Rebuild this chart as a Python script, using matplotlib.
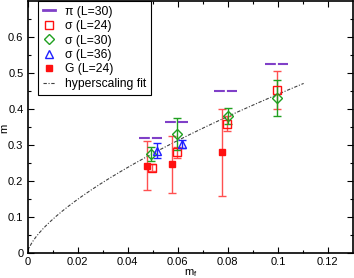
import numpy as np
import matplotlib
matplotlib.use('Agg')
import matplotlib.pyplot as plt
from matplotlib.lines import Line2D

plt.rcParams['font.family'] = ['Liberation Sans', 'DejaVu Sans']

# pi (L=30)
pi_x = [0.049, 0.0594, 0.079, 0.0993]
pi_y = [0.320, 0.364, 0.451, 0.524]

# sigma (L=24)
s24_x = [0.0498, 0.0598, 0.0797, 0.0998]
s24_y = [0.237, 0.280, 0.359, 0.452]
s24_e = [0.010, 0.015, 0.020, 0.052]

# sigma (L=30)
s30_x = [0.0492, 0.0596, 0.0800, 0.0998]
s30_y = [0.274, 0.330, 0.381, 0.431]
s30_e = [0.020, 0.045, 0.022, 0.050]

# sigma (L=36)
s36_x = [0.0517, 0.0616]
s36_y = [0.284, 0.303]
s36_e = [0.020, 0.012]

# G (L=24)
g_x = [0.0477, 0.0578, 0.0778]
g_y = [0.242, 0.246, 0.279]
g_e = [0.068, 0.080, 0.120]

# hyperscaling fit m = A * mf^p
fit_A = 2.08
fit_p = 0.674
fit_xmax = 0.1103

purple = '#8040c8'
red = '#ff1010'
red_bar = '#ff5050'
green = '#20a020'
blue = '#2020ff'

fig = plt.figure(figsize=(3.54, 2.78), dpi=100)
ax = fig.add_axes([0.078, 0.09, 0.919, 0.907])

xf = np.linspace(0, fit_xmax, 300)
ax.plot(xf, fit_A * xf ** fit_p, color='#404040', lw=0.8, ls=(0, (3, 1.5, 1, 1.5)))

ax.errorbar(g_x, g_y, yerr=g_e, fmt='s', color=red, ecolor=red_bar, ms=5,
            elinewidth=1, capsize=3, capthick=1)
ax.errorbar(s24_x, s24_y, yerr=s24_e, fmt='s', mfc='none', mec=red, ecolor=red_bar,
            ms=6, mew=1, elinewidth=1, capsize=3, capthick=1)
ax.errorbar(s30_x, s30_y, yerr=s30_e, fmt='D', mfc='none', mec=green, ecolor=green,
            ms=5, mew=1, elinewidth=1, capsize=3, capthick=1)
ax.errorbar(s36_x, s36_y, yerr=s36_e, fmt='^', mfc='none', mec=blue, ecolor=blue,
            ms=6, mew=1, elinewidth=1, capsize=3, capthick=1)

hw = 0.0046
ax.hlines(pi_y, np.array(pi_x) - hw, np.array(pi_x) + hw, colors=purple,
          lw=1.5, linestyles=(0, (5.2, 1.0)))

ax.set_xlim(0, 0.13)
ax.set_ylim(0, 0.7)
ax.set_xticks(np.arange(0, 0.121, 0.02))
ax.set_xticklabels(['0', '0.02', '0.04', '0.06', '0.08', '0.1', '0.12'])
ax.set_xticks(np.arange(0.01, 0.13, 0.02), minor=True)
ax.set_yticks(np.arange(0, 0.61, 0.1))
ax.set_yticklabels(['0', '0.1', '0.2', '0.3', '0.4', '0.5', '0.6'])
ax.set_yticks(np.arange(0.05, 0.7, 0.1), minor=True)
ax.tick_params(which='both', direction='in', top=True, right=True, labelsize=8, width=0.8)
ax.tick_params(which='major', length=4, pad=3)
ax.tick_params(which='minor', length=2)
for s in ax.spines.values():
    s.set_linewidth(1.2)

ax.set_xlabel('m$_\\mathregular{f}$', fontsize=8, labelpad=0)
fig.text(0.012, 0.54, 'm', fontsize=8, rotation=90, ha='center', va='center')

handles = [
    Line2D([], [], color=purple, lw=2),
    Line2D([], [], marker='s', ls='none', mfc='none', mec=red, ms=6),
    Line2D([], [], marker='D', ls='none', mfc='none', mec=green, ms=5),
    Line2D([], [], marker='^', ls='none', mfc='none', mec=blue, ms=6),
    Line2D([], [], marker='s', ls='none', color=red, ms=5),
    Line2D([], [], color='#404040', lw=0.8, ls=(0, (3, 1.5, 1, 1.5))),
]
labels = ['π (L=30)', 'σ (L=24)', 'σ (L=30)', 'σ (L=36)', 'G (L=24)', 'hyperscaling fit']
leg = ax.legend(handles, labels, loc='upper left', bbox_to_anchor=(0.032, 1.0),
                borderaxespad=0, fontsize=8.7, handlelength=1.0, handletextpad=0.8,
                labelspacing=0.2, fancybox=False, edgecolor='black', framealpha=1)
leg.get_frame().set_linewidth(0.8)

fig.savefig('out.png', dpi=100)
